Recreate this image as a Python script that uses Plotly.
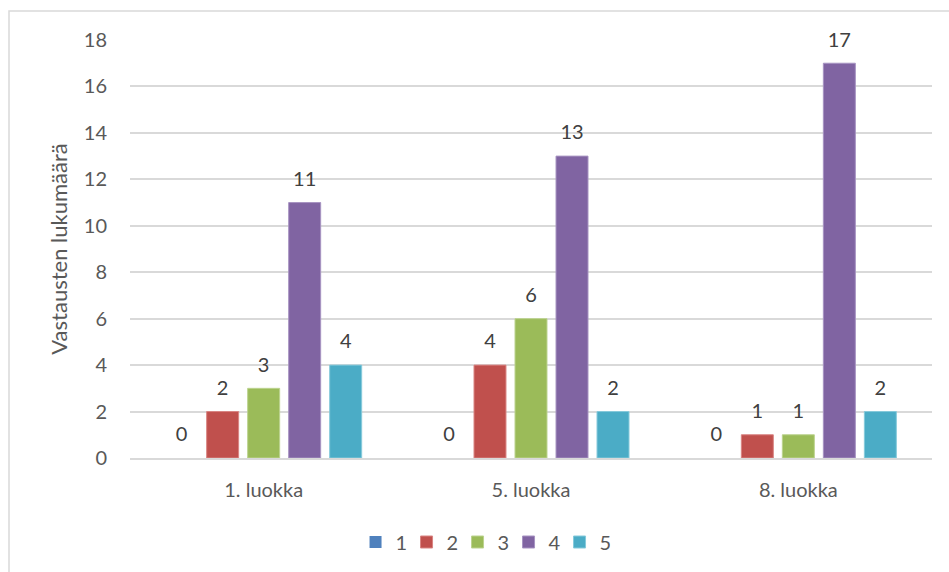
import plotly.graph_objects as go

categories = ["1. luokka", "5. luokka", "8. luokka"]
series_names = ["1", "2", "3", "4", "5"]
values_1 = [0, 0, 0]
values_2 = [2, 4, 1]
values_3 = [3, 6, 1]
values_4 = [11, 13, 17]
values_5 = [4, 2, 2]
y_ticks = [0, 2, 4, 6, 8, 10, 12, 14, 16, 18]

series_values = [values_1, values_2, values_3, values_4, values_5]
fill_colors = ["#4F81BD", "#C0504D", "#9BBB59", "#8064A2", "#4BACC6"]
edge_colors = ["#7FA2D1", "#D98583", "#BCD38F", "#A793C2", "#86CADB"]

FONT = "Lato, 'Open Sans', sans-serif"

fig = go.Figure()
for i, (name, vals, fc, ec) in enumerate(zip(series_names, series_values, fill_colors, edge_colors)):
    fig.add_trace(go.Bar(
        name=name,
        x=categories,
        y=vals,
        offsetgroup=str(i),
        alignmentgroup="g",
        marker=dict(color=fc,
                    line=dict(color=ec, width=[1 if v > 0 else 0 for v in vals])),
    ))

# value labels, aligned with the grouped bars through matching offset groups
for i, vals in enumerate(series_values):
    fig.add_trace(go.Scatter(
        x=categories,
        y=vals,
        offsetgroup=str(i),
        alignmentgroup="g",
        mode="markers+text",
        marker=dict(size=17, opacity=0),
        text=[str(v) for v in vals],
        textposition="top center",
        textfont=dict(size=20, color="#404040", family=FONT),
        cliponaxis=False,
        showlegend=False,
        hoverinfo="skip",
    ))

fig.update_layout(
    width=949,
    height=572,
    paper_bgcolor="white",
    plot_bgcolor="white",
    margin=dict(l=130, r=17, t=40, b=114),
    barmode="group",
    scattermode="group",
    bargap=0.233,
    bargroupgap=0.22,
    scattergap=0.233,
    font=dict(family=FONT, color="#595959", size=20),
    showlegend=True,
    legend=dict(
        orientation="h",
        xref="container",
        yref="container",
        x=0.509,
        y=(572 - 542) / 572,
        xanchor="center",
        yanchor="middle",
        font=dict(size=20, color="#595959", family=FONT),
        entrywidth=6,
        entrywidthmode="pixels",
        itemwidth=30,
        traceorder="normal",
    ),
    shapes=[
        dict(type="rect", xref="paper", yref="paper",
             x0=-121 / 802, x1=1.05, y0=-0.4, y1=1 + 29 / 418,
             line=dict(color="#D9D9D9", width=1.5), layer="below"),
    ],
)

fig.update_xaxes(
    showgrid=False,
    showline=True,
    linecolor="#D9D9D9",
    linewidth=1.5,
    ticks="",
    tickfont=dict(size=20, color="#595959", family=FONT),
    ticklabelstandoff=13,
)

fig.update_yaxes(
    range=[0, 18],
    tickvals=y_ticks,
    showgrid=True,
    gridcolor="#D9D9D9",
    gridwidth=1.5,
    zeroline=False,
    showline=False,
    ticks="",
    tickfont=dict(size=20, color="#595959", family=FONT),
    ticklabelstandoff=22,
    title=dict(text="Vastausten lukumäärä",
               font=dict(size=22, color="#595959", family=FONT),
               standoff=10),
)

fig.write_html("out.html")
